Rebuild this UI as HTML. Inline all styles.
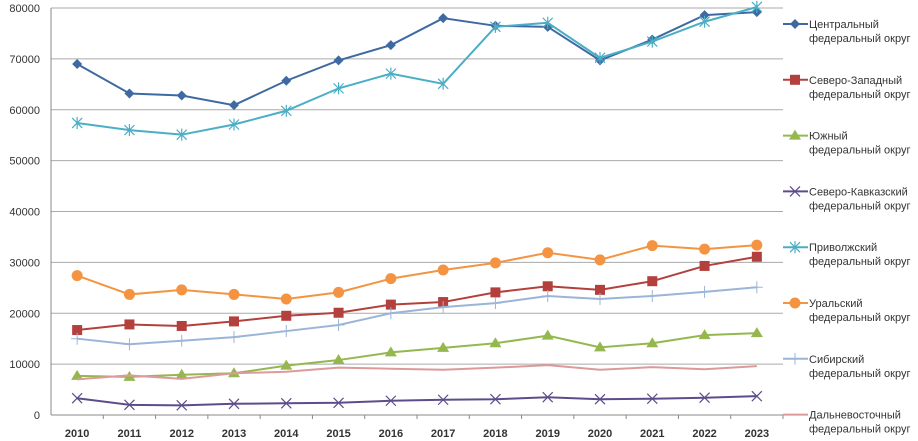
<!DOCTYPE html>
<html><head><meta charset="utf-8"><style>
body{margin:0;background:#fff;}
svg{display:block;font-family:"Liberation Sans","DejaVu Sans",sans-serif;}
</style></head><body>
<svg id="chart" width="918" height="441"></svg>
<script>
const years=[2010,2011,2012,2013,2014,2015,2016,2017,2018,2019,2020,2021,2022,2023];
const yTicks=[0,10000,20000,30000,40000,50000,60000,70000,80000];
const central=[69000,63200,62800,60900,65700,69700,72700,78000,76500,76300,69700,73800,78600,79200];
const northWest=[16700,17800,17500,18400,19500,20100,21700,22200,24100,25300,24600,26300,29300,31100];
const south=[7700,7500,7900,8200,9700,10800,12300,13200,14100,15600,13300,14100,15700,16100];
const northCaucasus=[3300,2000,1900,2200,2300,2400,2800,3000,3100,3500,3100,3200,3400,3700];
const volga=[57400,56000,55100,57100,59800,64200,67100,65100,76300,77100,70200,73400,77300,80200];
const ural=[27400,23700,24600,23700,22800,24100,26800,28500,29900,31900,30500,33300,32600,33400];
const siberian=[15000,13900,14600,15300,16500,17700,20000,21200,22000,23400,22800,23400,24200,25100];
const farEast=[7000,7800,7100,8200,8500,9300,9100,8900,9300,9800,8900,9400,9000,9600];
const seriesNames=["Центральный","Северо-Западный","Южный","Северо-Кавказский","Приволжский","Уральский","Сибирский","Дальневосточный"];

const series=[
 {d:central,c:"#3f6aa1",m:"diamond",n:"central"},
 {d:northWest,c:"#b3403d",m:"square",n:"north-west"},
 {d:south,c:"#94b84e",m:"triangle",n:"south"},
 {d:northCaucasus,c:"#5d4c8a",m:"x",n:"north-caucasus"},
 {d:volga,c:"#4aaec4",m:"star",n:"volga"},
 {d:ural,c:"#f49442",m:"circle",n:"ural"},
 {d:siberian,c:"#9bb5d8",m:"plus",n:"siberian"},
 {d:farEast,c:"#dc9b9a",m:"none",n:"far-east"}];

const svg=document.getElementById('chart');
const NS="http://www.w3.org/2000/svg";
const L=51,R=783,T=8,B=415,yMax=80000;
const cw=(R-L)/years.length;
const xS=i=>L+cw*(i+0.5);
const yS=v=>B-(v/yMax)*(B-T);
function el(t,a,p){const e=document.createElementNS(NS,t);for(const k in a)e.setAttribute(k,a[k]);(p||svg).appendChild(e);return e;}

yTicks.forEach(v=>{
 const g=el('line',{x1:L,x2:R,y1:yS(v),y2:yS(v),stroke:v===0?'#888':'#aaa','stroke-width':1});
 
 
 const t=el('text',{x:L-11,y:yS(v)+4,'text-anchor':'end','font-size':11,fill:'#333'});
 t.textContent=v;
 
 
});
const ax=el('line',{x1:L,x2:L,y1:T,y2:B,stroke:'#888'});


years.forEach((y,i)=>{
 const tk=el('line',{x1:L+cw*(i+1),x2:L+cw*(i+1),y1:B,y2:B+4,stroke:'#888'});
 
 
 const t=el('text',{x:xS(i),y:437,'text-anchor':'middle','font-size':11,'font-weight':'bold',fill:'#333'});
 t.textContent=y;
 
 
});

function marker(type,x,y,c,g){
 if(type==='diamond')el('polygon',{points:`${x},${y-5} ${x+5},${y} ${x},${y+5} ${x-5},${y}`,fill:c},g);
 else if(type==='square')el('rect',{x:x-5,y:y-5,width:10,height:10,fill:c},g);
 else if(type==='triangle')el('polygon',{points:`${x},${y-6} ${x+6},${y+4} ${x-6},${y+4}`,fill:c},g);
 else if(type==='circle')el('circle',{cx:x,cy:y,r:5.5,fill:c},g);
 else if(type==='x')el('path',{d:`M${x-5} ${y-5}L${x+5} ${y+5}M${x-5} ${y+5}L${x+5} ${y-5}`,stroke:c,'stroke-width':1.2},g);
 else if(type==='star')el('path',{d:`M${x-5} ${y-5}L${x+5} ${y+5}M${x-5} ${y+5}L${x+5} ${y-5}M${x} ${y-6}L${x} ${y+6}`,stroke:c,'stroke-width':1.2},g);
 else if(type==='plus')el('path',{d:`M${x-6} ${y}L${x+6} ${y}M${x} ${y-6}L${x} ${y+6}`,stroke:c,'stroke-width':1},g);
}

series.forEach((s,si)=>{
 const g=el('g',{});
 
 
 const pts=s.d.map((v,i)=>xS(i)+','+yS(v)).join(' ');
 el('polyline',{points:pts,fill:'none',stroke:s.c,'stroke-width':2},g);
 s.d.forEach((v,i)=>marker(s.m,xS(i),yS(v),s.c,g));
 // legend
 const ly=24+si*55.8;
 const lg=el('g',{});
 
 
 el('line',{x1:783,x2:808,y1:ly,y2:ly,stroke:s.c,'stroke-width':2},lg);
 marker(s.m,795,ly,s.c,lg);
 const t1=el('text',{x:809,y:ly+4,'font-size':11,fill:'#333'},lg);t1.textContent=seriesNames[si];
 const t2=el('text',{x:809,y:ly+18,'font-size':11,fill:'#333'},lg);t2.textContent='федеральный округ';
});
</script>
</body></html>
